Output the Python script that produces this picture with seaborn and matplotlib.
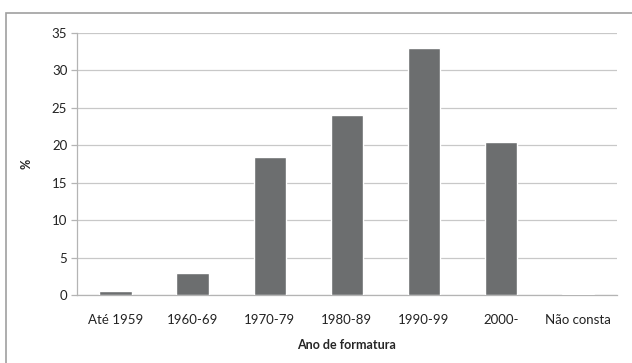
import matplotlib
matplotlib.use("Agg")
import matplotlib.pyplot as plt
import seaborn as sns
import pandas as pd
from matplotlib.patches import Rectangle

categories = ["Até 1959", "1960-69", "1970-79", "1980-89", "1990-99", "2000-", "Não consta"]
values = [0.5, 3.0, 18.5, 24.0, 33.0, 20.5, 0.1]
yticks = [0, 5, 10, 15, 20, 25, 30, 35]

sns.set_theme(style="white")
plt.rcParams["font.family"] = ["Lato", "DejaVu Sans"]

df = pd.DataFrame({"cat": categories, "val": values})

fig = plt.figure(figsize=(6.32, 3.63), dpi=100)
ax = fig.add_axes([0.1218, 0.1873, 0.8542, 0.7218])

sns.barplot(data=df, x="cat", y="val", color="#6c6e6f", saturation=1,
            width=0.42, ax=ax, zorder=3)

ax.set_ylim(0, 35)
ax.set_xlim(-0.5, len(categories) - 0.5)
ax.set_yticks(yticks)
ax.yaxis.grid(True, color="#c8c8c8", linewidth=0.9, zorder=0)
ax.set_axisbelow(True)

for side in ["top", "right"]:
    ax.spines[side].set_visible(False)
for side in ["left", "bottom"]:
    ax.spines[side].set_color("#b4b4b4")
    ax.spines[side].set_linewidth(0.9)

ax.tick_params(axis="y", which="both", left=True, length=4, color="#b4b4b4",
               width=0.9, labelsize=9.5, labelcolor="#222222", pad=3)
ax.tick_params(axis="x", bottom=False, labelsize=9.5, labelcolor="#222222", pad=8)

ax.set_xlabel("Ano de formatura", fontsize=9, fontweight="bold", labelpad=9)
ax.set_ylabel("%", fontsize=9, fontweight="bold", labelpad=14)

# chart frame
fig.patches.append(Rectangle((6 / 632, -0.05), 1.1, 1 - 13 / 363 + 0.05,
                             transform=fig.transFigure, fill=False,
                             edgecolor="#a0a0a0", linewidth=1.2))

fig.savefig("out.png", dpi=100)
